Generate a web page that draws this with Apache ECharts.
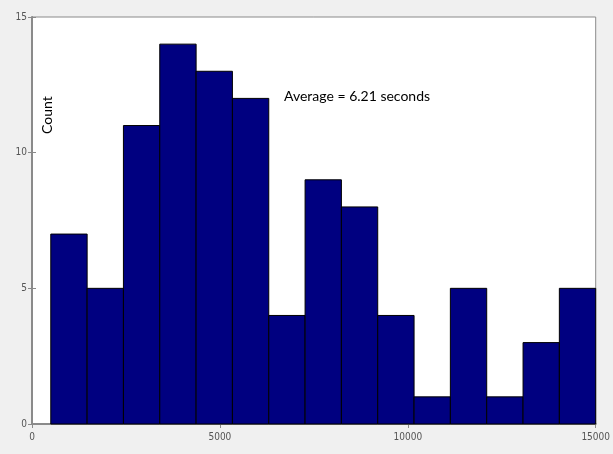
<!DOCTYPE html>
<html>
<head>
<meta charset="utf-8">
<script src="https://cdn.jsdelivr.net/npm/echarts@6/dist/echarts.min.js"></script>
<style>
html,body{margin:0;padding:0;background:#f0f0f0;}
#c{width:613px;height:454px;}
</style>
</head>
<body>
<div id="c"></div>
<script>
// Histogram bin edges (x units)
const binEdges = [500, 1467, 2433, 3400, 4367, 5333, 6300, 7267, 8233, 9200, 10167, 11133, 12100, 13067, 14033, 15000];
// Count per bin
const counts = [7, 5, 11, 14, 13, 12, 4, 9, 8, 4, 1, 5, 1, 3, 5];
const xTicks = [0, 5000, 10000, 15000];
const yTicks = [0, 5, 10, 15];
const yLabel = 'Count';
const note = 'Average = 6.21 seconds';

const data = counts.map((c, i) => [binEdges[i], binEdges[i + 1], c]);

const chart = echarts.init(document.getElementById('c'));
const tickFont = {color: '#555', fontSize: 10, fontFamily: 'Liberation Sans Narrow, DejaVu Sans Condensed, sans-serif'};
chart.setOption({
  backgroundColor: '#f0f0f0',
  animation: false,
  grid: {left: 32, right: 14, top: 17, bottom: 30, show: true, backgroundColor: '#fff', borderColor: '#8a8a8a', borderWidth: 1},
  xAxis: [{
    type: 'value', min: xTicks[0], max: xTicks[xTicks.length - 1], interval: xTicks[1] - xTicks[0],
    axisLine: {show: true, lineStyle: {color: '#8a8a8a', width: 2}},
    axisTick: {show: true, inside: true, length: 4, lineStyle: {color: '#8a8a8a'}},
    axisLabel: Object.assign({margin: 8, formatter: v => String(v)}, tickFont),
    splitLine: {show: false}
  }, {
    type: 'value', position: 'top', min: xTicks[0], max: xTicks[xTicks.length - 1], interval: xTicks[1] - xTicks[0],
    axisLine: {show: true, lineStyle: {color: '#8a8a8a', width: 1}},
    axisTick: {show: true, inside: true, length: 4, lineStyle: {color: '#8a8a8a'}},
    axisLabel: {show: false}, splitLine: {show: false}
  }],
  yAxis: [{
    type: 'value', min: yTicks[0], max: yTicks[yTicks.length - 1], interval: yTicks[1] - yTicks[0],
    axisLine: {show: true, lineStyle: {color: '#8a8a8a', width: 2}},
    axisTick: {show: true, inside: true, length: 4, lineStyle: {color: '#8a8a8a'}},
    axisLabel: Object.assign({margin: 5, formatter: v => String(v)}, tickFont),
    splitLine: {show: false}
  }, {
    type: 'value', position: 'right', min: yTicks[0], max: yTicks[yTicks.length - 1], interval: yTicks[1] - yTicks[0],
    axisLine: {show: true, lineStyle: {color: '#8a8a8a', width: 1}},
    axisTick: {show: true, inside: true, length: 4, lineStyle: {color: '#8a8a8a'}},
    axisLabel: {show: false}, splitLine: {show: false}
  }],
  series: [{
    type: 'custom',
    data: data,
    encode: {x: [0, 1], y: 2},
    renderItem: function (params, api) {
      const p0 = api.coord([api.value(0), api.value(2)]);
      const p1 = api.coord([api.value(1), 0]);
      return {
        type: 'rect',
        shape: {x: p0[0], y: p0[1], width: p1[0] - p0[0], height: p1[1] - p0[1]},
        style: {fill: '#000080', stroke: '#000000', lineWidth: 1}
      };
    }
  }],
  graphic: [{
    type: 'text', left: 284, top: 89,
    style: {text: note, fill: '#000', fontSize: 14, fontFamily: 'Lato, Open Sans, sans-serif'}
  }, {
    type: 'text', x: 40, y: 134, rotation: Math.PI / 2,
    style: {text: yLabel, fill: '#000', fontSize: 14, fontFamily: 'Lato, Open Sans, sans-serif'}
  }]
});
</script>
</body>
</html>
